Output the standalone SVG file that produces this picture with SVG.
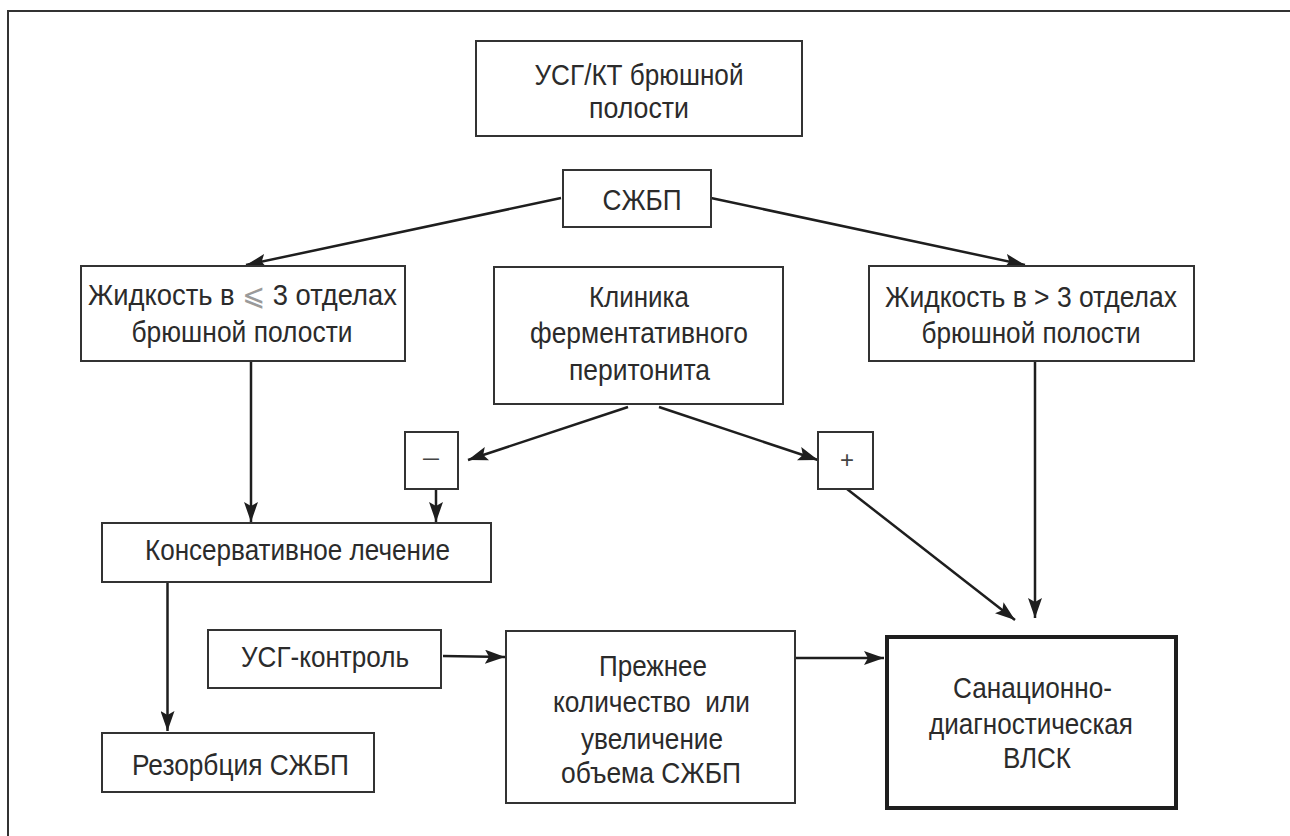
<svg xmlns="http://www.w3.org/2000/svg" width="1290" height="836" viewBox="0 0 1290 836">
<defs>
<marker id="ah" markerUnits="userSpaceOnUse" viewBox="0 0 20 14" refX="20" refY="7" markerWidth="20" markerHeight="14" orient="auto">
<path d="M0,0 L20,7 L0,14 L4,7 Z" fill="#1e1e1e"/>
</marker>
<style>
.box{fill:#fff;stroke:#333;stroke-width:2}
.bold{fill:#fff;stroke:#1e1e1e;stroke-width:4}
.t{font-family:"Liberation Sans",Arial,"DejaVu Sans",sans-serif;font-size:30px;fill:#2b2b2b;text-anchor:middle}
.s{font-family:"Liberation Sans",Arial,sans-serif;font-size:24px;fill:#444;text-anchor:middle}
.c{fill:none;stroke:#1e1e1e;stroke-width:2.5;marker-end:url(#ah)}
.frame{fill:none;stroke:#333;stroke-width:2}
</style>
</defs>
<rect width="1290" height="836" fill="#fff"/>
<path class="frame" d="M8,836 V11 H1290"/>

<g id="connectors">
<line class="c" x1="561" y1="198" x2="246" y2="265"/>
<line class="c" x1="711" y1="198" x2="1025" y2="265"/>
<line class="c" x1="251" y1="361" x2="251" y2="522"/>
<line class="c" x1="1035" y1="361" x2="1035" y2="618"/>
<line class="c" x1="628" y1="407" x2="468" y2="460"/>
<line class="c" x1="659" y1="407" x2="818" y2="460"/>
<line class="c" x1="436" y1="489" x2="436" y2="522"/>
<line class="c" x1="847" y1="489" x2="1015" y2="620"/>
<line class="c" x1="167.5" y1="582" x2="167.5" y2="731"/>
<line class="c" x1="443" y1="656" x2="505" y2="657"/>
<line class="c" x1="795" y1="658" x2="884" y2="658"/>
</g>

<g id="n-usg-kt">
<rect class="box" x="476" y="41" width="326" height="95"/>
<text class="t" x="639" y="85" textLength="209" lengthAdjust="spacingAndGlyphs">УСГ/КТ брюшной</text>
<text class="t" x="639" y="118" textLength="100" lengthAdjust="spacingAndGlyphs">полости</text>
</g>

<g id="n-szhbp">
<rect class="box" x="563" y="170" width="148" height="57"/>
<text class="t" x="642" y="210" textLength="79" lengthAdjust="spacingAndGlyphs">СЖБП</text>
</g>

<g id="n-fluid-le3">
<rect class="box" x="81" y="266" width="324" height="95"/>
<text class="t" x="242.5" y="305" textLength="309" lengthAdjust="spacingAndGlyphs">Жидкость в <tspan style="fill:#9a9a9a">⩽</tspan> 3 отделах</text>
<text class="t" x="242" y="342" textLength="221" lengthAdjust="spacingAndGlyphs">брюшной полости</text>
</g>

<g id="n-clinic">
<rect class="box" x="494" y="267" width="289" height="137"/>
<text class="t" x="639" y="307" textLength="100" lengthAdjust="spacingAndGlyphs">Клиника</text>
<text class="t" x="639" y="343" textLength="218" lengthAdjust="spacingAndGlyphs">ферментативного</text>
<text class="t" x="639.5" y="380" textLength="141" lengthAdjust="spacingAndGlyphs">перитонита</text>
</g>

<g id="n-fluid-gt3">
<rect class="box" x="869" y="266" width="325" height="95"/>
<text class="t" x="1031" y="307" textLength="292" lengthAdjust="spacingAndGlyphs">Жидкость в &gt; 3 отделах</text>
<text class="t" x="1031" y="343" textLength="219" lengthAdjust="spacingAndGlyphs">брюшной полости</text>
</g>

<g id="n-minus">
<rect class="box" x="405" y="432" width="53" height="57"/>
<text class="s" x="431" y="465" textLength="16" lengthAdjust="spacingAndGlyphs">–</text>
</g>

<g id="n-plus">
<rect class="box" x="818" y="432" width="55" height="57"/>
<text class="s" x="847" y="468">+</text>
</g>

<g id="n-conservative">
<rect class="box" x="102" y="523" width="389" height="59"/>
<text class="t" x="297.5" y="560" textLength="305" lengthAdjust="spacingAndGlyphs">Консервативное лечение</text>
</g>

<g id="n-usg-control">
<rect class="box" x="208" y="630" width="233" height="58"/>
<text class="t" x="325" y="667" textLength="168" lengthAdjust="spacingAndGlyphs">УСГ-контроль</text>
</g>

<g id="n-previous">
<rect class="box" x="506" y="631" width="289" height="172"/>
<text class="t" x="653" y="676" textLength="108" lengthAdjust="spacingAndGlyphs">Прежнее</text>
<text class="t" x="651.5" y="712" style="white-space:pre" textLength="197" lengthAdjust="spacingAndGlyphs">количество  или</text>
<text class="t" x="652" y="749" textLength="142" lengthAdjust="spacingAndGlyphs">увеличение</text>
<text class="t" x="651" y="783" textLength="180" lengthAdjust="spacingAndGlyphs">объема СЖБП</text>
</g>

<g id="n-resorption">
<rect class="box" x="102" y="733" width="272" height="59"/>
<text class="t" x="240.5" y="775" textLength="217" lengthAdjust="spacingAndGlyphs">Резорбция СЖБП</text>
</g>

<g id="n-vlsk">
<rect class="bold" x="887" y="637" width="289" height="171"/>
<text class="t" x="1032.5" y="698" textLength="159" lengthAdjust="spacingAndGlyphs">Санационно-</text>
<text class="t" x="1031" y="734" textLength="204" lengthAdjust="spacingAndGlyphs">диагностическая</text>
<text class="t" x="1037" y="768" textLength="68" lengthAdjust="spacingAndGlyphs">ВЛСК</text>
</g>
</svg>
